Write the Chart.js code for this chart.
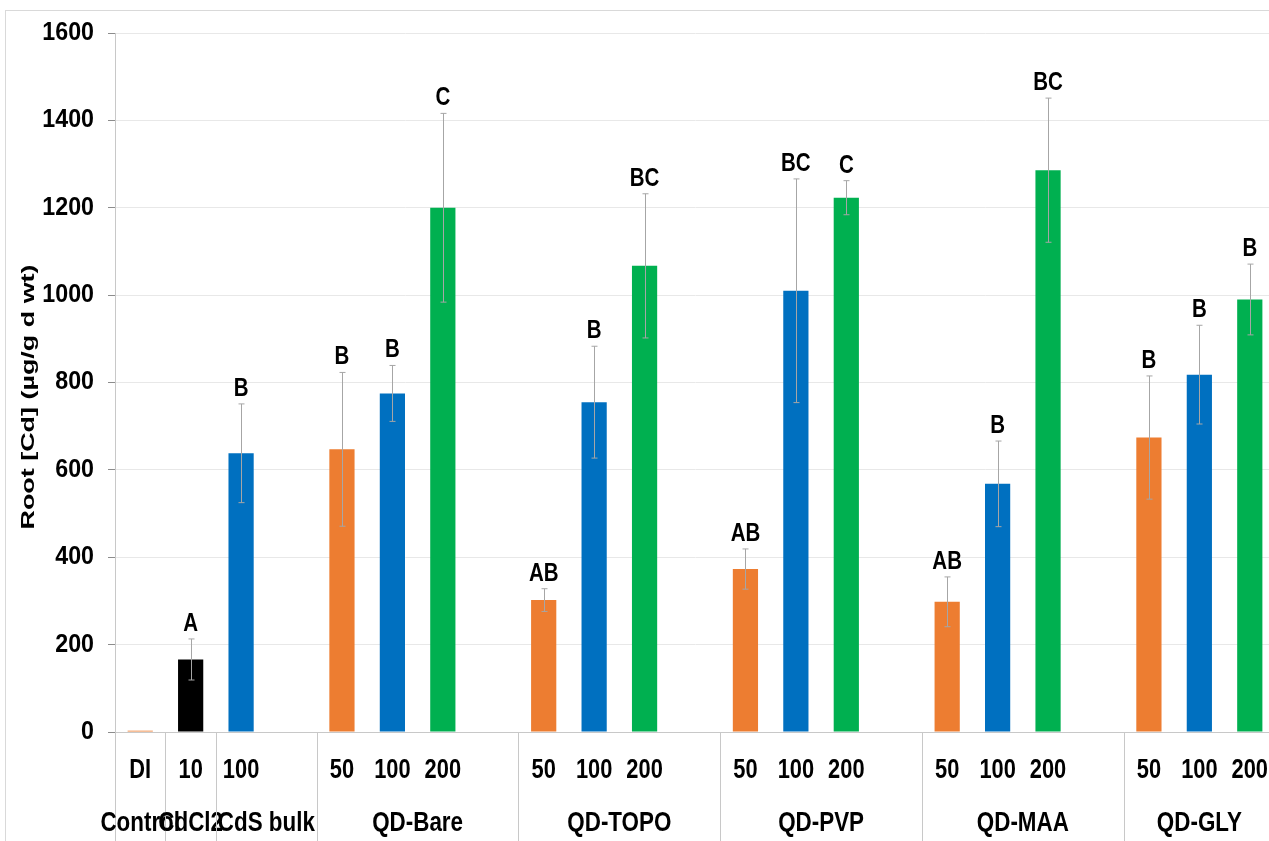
<!DOCTYPE html>
<html>
<head>
<meta charset="utf-8">
<script src="https://cdn.jsdelivr.net/npm/chart.js@4.4.0/dist/chart.umd.min.js"></script>
<style>
  body { margin: 0; overflow: hidden; background: #fff; }
  #wrap { position: absolute; left: 0; top: 0; width: 1275px; height: 841px; }
  #frame { position: absolute; left: 5px; top: 10px; width: 1300px; height: 900px; border: 1px solid #d9d9d9; }
</style>
</head>
<body>
<div id="frame"></div>
<div id="wrap"><canvas id="myChart" width="1275" height="841"></canvas></div>
<script>
// one slot per bar, '' = empty spacer slot
const doseLabels = ['DI', '10', '100', '', '50', '100', '200', '', '50', '100', '200', '', '50', '100', '200', '', '50', '100', '200', '', '50', '100', '200'];
const rootCd = [3, 166, 638, null, 647, 775, 1200, null, 302, 755, 1067, null, 373, 1010, 1223, null, 298, 568, 1286, null, 674, 818, 990];
const rootErr = [0, 47, 113, null, 176, 64, 216, null, 26, 128, 165, null, 46, 256, 39, null, 57, 98, 165, null, 141, 113, 81];
const sigLetters = ['', 'A', 'B', '', 'B', 'B', 'C', '', 'AB', 'B', 'BC', '', 'AB', 'BC', 'C', '', 'AB', 'B', 'BC', '', 'B', 'B', 'B'];
const barColors = ['#ED7D31', '#000000', '#0070C0', null, '#ED7D31', '#0070C0', '#00B050', null, '#ED7D31', '#0070C0', '#00B050', null, '#ED7D31', '#0070C0', '#00B050', null, '#ED7D31', '#0070C0', '#00B050', null, '#ED7D31', '#0070C0', '#00B050'];
const groupNames = ['Control', 'CdCl2', 'CdS bulk', 'QD-Bare', 'QD-TOPO', 'QD-PVP', 'QD-MAA', 'QD-GLY'];
const groupSizes = [1, 1, 2, 4, 4, 4, 4, 3];
const yTicks = [0, 200, 400, 600, 800, 1000, 1200, 1400, 1600];
const yTitle = 'Root [Cd] (µg/g d wt)';

const fam = "'Liberation Sans', Arial, sans-serif";

// text squeezed horizontally, like the condensed font in the picture
function squeezed(ctx, txt, x, y, font, sx, align) {
  ctx.save();
  ctx.translate(x, y);
  ctx.scale(sx, 1);
  ctx.font = font;
  ctx.textAlign = align || 'center';
  ctx.fillText(txt, 0, 0);
  ctx.restore();
}

const extras = {
  id: 'extras',
  afterDatasetsDraw(chart) {
    const ctx = chart.ctx;
    const x = chart.scales.x, y = chart.scales.y;
    ctx.save();
    // error bars
    ctx.strokeStyle = '#a6a6a6';
    ctx.lineWidth = 1;
    rootCd.forEach((v, i) => {
      if (v == null || !rootErr[i]) return;
      const px = Math.round(x.getPixelForValue(i)) + 0.5;
      const top = y.getPixelForValue(v + rootErr[i]);
      const bot = y.getPixelForValue(v - rootErr[i]);
      ctx.beginPath();
      ctx.moveTo(px, top); ctx.lineTo(px, bot);
      ctx.moveTo(px - 3, top); ctx.lineTo(px + 3, top);
      ctx.moveTo(px - 3, bot); ctx.lineTo(px + 3, bot);
      ctx.stroke();
    });
    // letters
    ctx.fillStyle = '#000';
    ctx.textBaseline = 'alphabetic';
    sigLetters.forEach((s, i) => {
      if (!s) return;
      const px = x.getPixelForValue(i);
      const top = y.getPixelForValue(rootCd[i] + (rootErr[i] || 0));
      squeezed(ctx, s, px, top - 8, 'bold 25px ' + fam, 0.82);
    });
    ctx.restore();
  },
  afterDraw(chart) {
    const ctx = chart.ctx;
    const x = chart.scales.x, y = chart.scales.y;
    const area = chart.chartArea;
    const base = Math.round(y.getPixelForValue(0)) + 0.5;
    const half = (x.getPixelForValue(1) - x.getPixelForValue(0)) / 2;
    ctx.save();
    ctx.strokeStyle = '#c8c8c8';
    ctx.lineWidth = 1;
    ctx.beginPath();
    ctx.moveTo(area.left, base); ctx.lineTo(chart.width, base);
    ctx.stroke();
    ctx.fillStyle = '#000';
    ctx.textBaseline = 'middle';
    // y tick labels
    yTicks.forEach(v => {
      squeezed(ctx, String(v), 94, y.getPixelForValue(v), 'bold 25px ' + fam, 0.93, 'right');
    });
    // y title, rotated and stretched along its length
    ctx.save();
    ctx.translate(34, 397);
    ctx.rotate(-Math.PI / 2);
    ctx.font = 'bold 18px ' + fam;
    const w = ctx.measureText(yTitle).width;
    ctx.scale(265 / w, 1);
    ctx.textAlign = 'center';
    ctx.textBaseline = 'alphabetic';
    ctx.fillText(yTitle, 0, 0);
    ctx.restore();
    // dose row
    doseLabels.forEach((d, i) => {
      if (d) squeezed(ctx, d, x.getPixelForValue(i), 770, 'bold 28px ' + fam, 0.78);
    });
    // group separators and names
    let start = 0;
    groupNames.forEach((g, k) => {
      const l = x.getPixelForValue(start) - half;
      const r = x.getPixelForValue(start + groupSizes[k] - 1) + half;
      ctx.beginPath();
      ctx.moveTo(Math.round(l) + 0.5, base); ctx.lineTo(Math.round(l) + 0.5, chart.height);
      ctx.stroke();
      squeezed(ctx, g, (l + r) / 2, 823, 'bold 28px ' + fam, 0.8);
      start += groupSizes[k];
    });
    ctx.restore();
  }
};

new Chart(document.getElementById('myChart'), {
  type: 'bar',
  data: {
    labels: doseLabels,
    datasets: [{
      label: 'Root [Cd]',
      data: rootCd,
      backgroundColor: barColors,
      borderWidth: 0,
      barPercentage: 0.5,
      categoryPercentage: 1.0
    }]
  },
  options: {
    responsive: false,
    animation: false,
    layout: { padding: { top: 33, right: 0, bottom: 0, left: 0 } },
    plugins: { legend: { display: false }, tooltip: { enabled: false } },
    scales: {
      x: {
        ticks: { display: false },
        grid: { display: false, drawTicks: false },
        border: { display: false },
        afterFit: s => { s.height = 109; }
      },
      y: {
        min: 0,
        max: 1600,
        afterBuildTicks: s => { s.ticks = yTicks.map(v => ({ value: v })); },
        ticks: { display: false },
        grid: { color: '#e8e8e8', tickColor: '#8c8c8c', tickLength: 7 },
        border: { color: '#c8c8c8', width: 1 },
        afterFit: s => { s.width = 115; }
      }
    }
  },
  plugins: [extras]
});
</script>
</body>
</html>
